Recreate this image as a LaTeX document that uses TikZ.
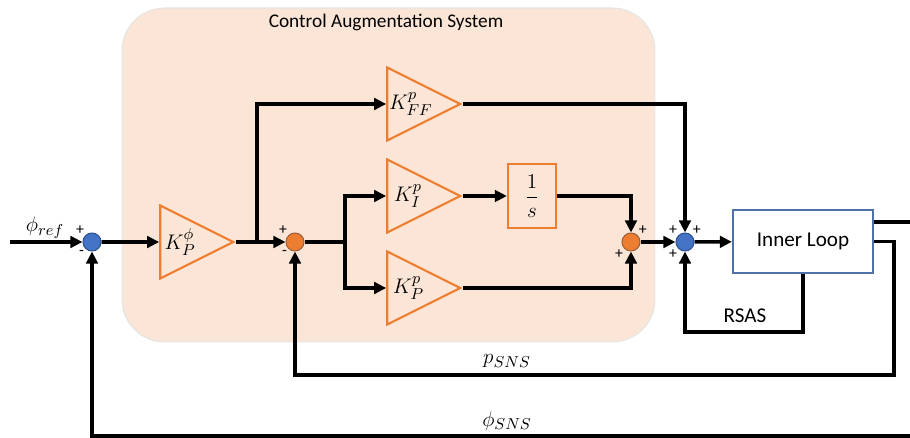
\documentclass[tikz,border=0pt]{standalone}
\usepackage{fontspec}
\setmainfont{Carlito}
\usetikzlibrary{shapes.geometric, arrows.meta, positioning}
\definecolor{peach}{HTML}{FBE5D6}
\definecolor{gainor}{HTML}{ED7D31}
\definecolor{sumblue}{HTML}{4472C4}
\definecolor{sumblueb}{HTML}{2F528F}
\definecolor{sumorb}{HTML}{A0603A}
\definecolor{loopblue}{HTML}{5070A8}

\begin{document}
\begin{tikzpicture}[x=0.02cm, y=-0.02cm,
    sig/.style={-{Triangle[length=2.4mm,width=2.3mm]}, line width=2pt},
    wire/.style={line width=2pt},
    tri/.style={isosceles triangle, isosceles triangle stretches, draw=gainor, line width=1.2pt,
        minimum width=1.46cm, minimum height=1.46cm, inner sep=0pt, anchor=apex,
        font=\fontsize{12.5}{14}\selectfont},
    sumb/.style={circle, draw=sumblueb, fill=sumblue, line width=0.6pt, minimum size=0.36cm, inner sep=0pt},
    sumo/.style={circle, draw=sumorb, fill=gainor, line width=0.6pt, minimum size=0.36cm, inner sep=0pt},
    sgn/.style={font=\fontsize{9}{10}\selectfont, inner sep=0.5pt, label distance=0pt},
    lbl/.style={font=\fontsize{12.5}{14}\selectfont},
]
\useasboundingbox (0,0) rectangle (910,438);
\node[rectangle, rounded corners=0.85cm, fill=peach, draw=black!10, line width=0.6pt,
    minimum width=10.66cm, minimum height=6.68cm] (cas) at (388.5,175) {};
\node[font=\fontsize{11}{13}\selectfont] (title) at (386,22) {Control Augmentation System};

\node[sumb, label={[sgn]135:+}, label={[sgn]225:-}] (s1) at (92,242) {};
\node[tri] (kphi) at (236,242) {$K_P^{\phi}$};
\node[sumo, label={[sgn]135:+}, label={[sgn]225:-}] (s2) at (295,242) {};
\node[tri] (kff) at (463,104) {$K_{FF}^{p}$};
\node[tri] (ki) at (463,196) {$K_I^{p}$};
\node[tri] (kp) at (463,288) {$K_P^{p}$};
\node[rectangle, draw=gainor, line width=1.3pt, minimum width=0.96cm, minimum height=1.28cm,
    inner sep=0pt, font=\fontsize{12.5}{14}\selectfont] (integ) at (532,196) {$\displaystyle\frac{1}{s}$};
\node[sumo, label={[sgn]45:+}, label={[sgn]225:+}] (s3) at (631,242) {};
\node[sumb, label={[sgn]135:+}, label={[sgn]45:+}, label={[sgn]225:+}] (s4) at (685,242) {};
\node[rectangle, draw=loopblue, fill=white, line width=1.3pt, minimum width=2.8cm, minimum height=1.26cm,
    font=\fontsize{12}{14}\selectfont] (inner) at (803,241.5) {Inner Loop};

\coordinate (in) at (10,242);
\coordinate (b1) at (257,242);
\coordinate (b2) at (345,242);
\coordinate (rturn) at (803,332);
\coordinate (pturn) at (894,375);
\coordinate (phturn) at (920,436);

\node[lbl] (phref) at (45,228) {$\phi_{ref}$};
\node[font=\fontsize{12}{14}\selectfont] (rsas) at (745,316) {RSAS};
\node[lbl] (psns) at (507,361) {$p_{SNS}$};
\node[lbl] (phsns) at (507,421) {$\phi_{SNS}$};

\draw[sig] (in) -- (s1);
\draw[sig] (s1) -- (kphi.west);
\draw[sig] (kphi.apex) -- (s2);
\draw[sig] (b1) |- (kff.west);
\draw[wire] (s2) -- (b2);
\draw[sig] (b2) |- (ki.west);
\draw[sig] (b2) |- (kp.west);
\draw[sig] (ki.apex) -- (integ);
\draw[sig] (integ) -| (s3);
\draw[sig] (kp.apex) -| (s3);
\draw[sig] (s3) -- (s4);
\draw[sig] (kff.apex) -| (s4);
\draw[sig] (s4) -- (inner);
\draw[sig] (inner.south) -- (rturn) -| (s4);
\draw[sig] (inner.east) -| (pturn) -| (s2);
\draw[sig] ([yshift=-0.26cm]inner.north east) -| (phturn) -| (s1);
\end{tikzpicture}
\end{document}
